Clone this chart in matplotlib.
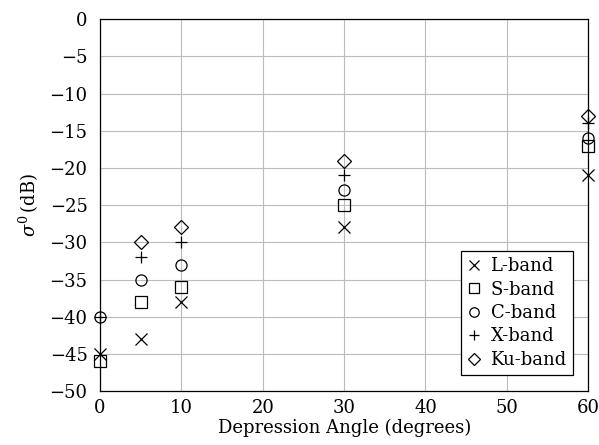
import numpy as np
import matplotlib
matplotlib.use('Agg')
import matplotlib.pyplot as plt

plt.rcParams['font.family'] = ['DejaVu Serif']
plt.rcParams['mathtext.fontset'] = 'dejavuserif'

angles = [0, 5, 10, 30, 60]
lBand = [-45, -43, -38, -28, -21]
sBand = [-46, -38, -36, -25, -17]
cBand = [-40, -35, -33, -23, -16]
xBand = [-40, -32, -30, -21, -14]
kuBand = [np.nan, -30, -28, -19, -13]

series = [
    ('L-band', lBand, 'x'),
    ('S-band', sBand, 's'),
    ('C-band', cBand, 'o'),
    ('X-band', xBand, '+'),
    ('Ku-band', kuBand, 'D'),
]

fig = plt.figure(figsize=(5.99, 4.45), dpi=100)
ax = fig.add_axes([0.167, 0.121, 0.815, 0.836])

for name, vals, mk in series:
    ms = 7 if mk == 'D' else 8
    ax.plot(angles, vals, linestyle='none', marker=mk, markersize=ms,
            markerfacecolor='none', markeredgecolor='black', markeredgewidth=0.9,
            color='black', label=name, clip_on=False, zorder=3)

ax.set_xlim(0, 60)
ax.set_ylim(-50, 0)
ax.set_xticks(range(0, 61, 10))
ax.set_yticks(range(-50, 1, 5))
ax.set_yticklabels(['\u2212%d' % -v if v < 0 else '0' for v in range(-50, 1, 5)])
ax.grid(True, color='#bbbbbb', linewidth=0.8)
ax.set_axisbelow(True)
ax.tick_params(length=0, labelsize=13)
ax.tick_params(axis='y', pad=9)
ax.tick_params(axis='x', pad=6)
for s in ax.spines.values():
    s.set_linewidth(0.9)

ax.set_xlabel('Depression Angle (degrees)', fontsize=13, labelpad=1)
ax.set_ylabel(r'$\sigma^0\,$(dB)', fontsize=13, labelpad=6)

leg = ax.legend(loc='lower right', bbox_to_anchor=(0.969, 0.043), fontsize=13,
                frameon=True, fancybox=False, edgecolor='black', markerscale=0.85,
                handlelength=0.8, handletextpad=0.5, borderpad=0.35,
                labelspacing=0.3, borderaxespad=0.0)
leg.get_frame().set_linewidth(0.9)
leg.get_frame().set_alpha(1)

fig.savefig('out.png', dpi=100)
